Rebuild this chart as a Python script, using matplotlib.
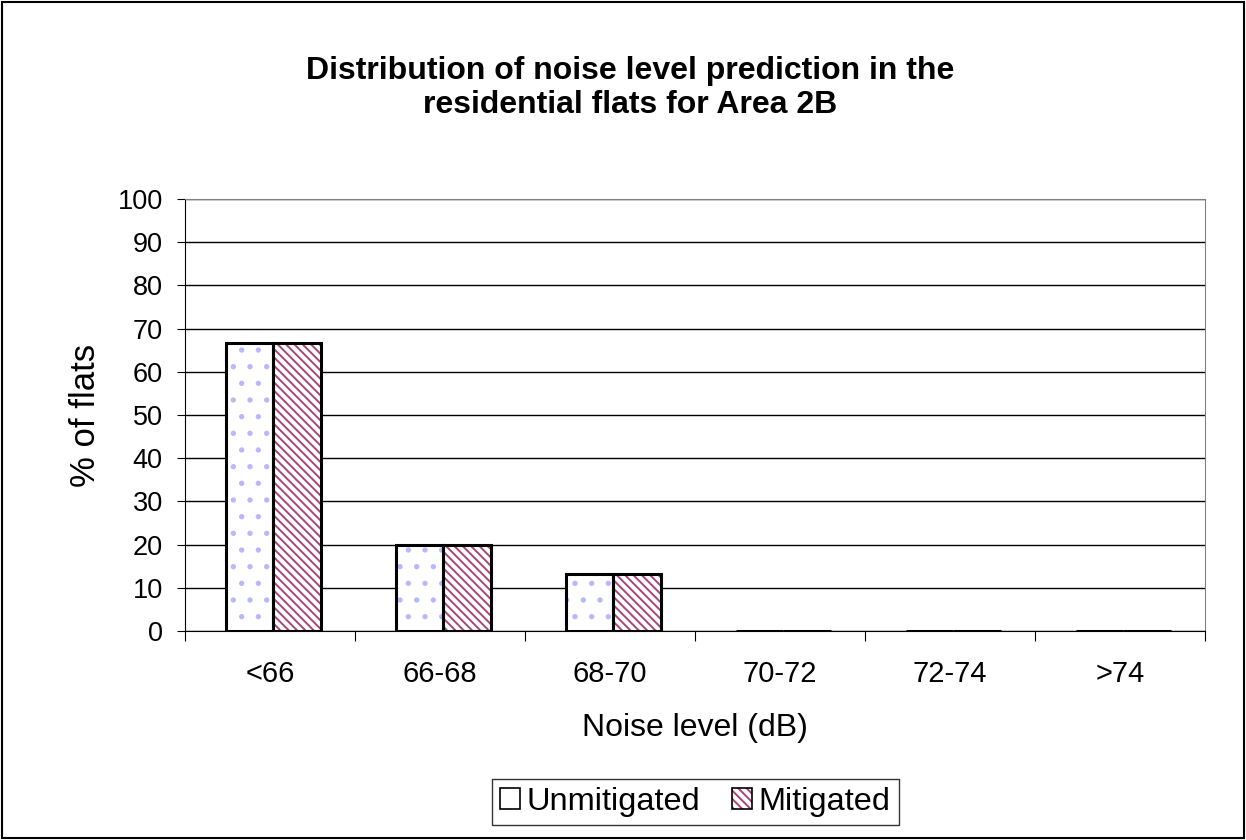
import matplotlib.pyplot as plt
from matplotlib.patches import Rectangle
from matplotlib.legend_handler import HandlerTuple
import numpy as np

plt.rcParams['font.family'] = ['Liberation Sans', 'DejaVu Sans']
plt.rcParams['hatch.linewidth'] = 1.4

categories = ['<66', '66-68', '68-70', '70-72', '72-74', '>74']
unmitigated = [66.7, 20.0, 13.3, 0, 0, 0]
mitigated = [66.7, 20.0, 13.3, 0, 0, 0]

DOT = '#b8b8ff'
STRIPE = '#a8467a'

fig = plt.figure(figsize=(12.46, 8.4), dpi=100)
ax = fig.add_axes([0.1485, 0.2488, 0.8186, 0.5143])

x = np.arange(len(categories))
w = 0.28

# hatched fills first, then black outlines on top
ax.bar(x - w / 2 + 0.02, unmitigated, w, color='white', hatch='.',
       edgecolor=DOT, linewidth=0, zorder=3)
ax.bar(x + w / 2 + 0.02, mitigated, w, color='white', hatch='\\\\\\\\',
       edgecolor=STRIPE, linewidth=0, zorder=3)
for xs, vals in [(x - w / 2 + 0.02, unmitigated), (x + w / 2 + 0.02, mitigated)]:
    ax.bar(xs, vals, w, fill=False, edgecolor='black', linewidth=2.2, zorder=4)

ax.set_xlim(-0.5, len(categories) - 0.5)
ax.set_ylim(0, 100)
ax.set_yticks(np.arange(0, 101, 10))
ax.yaxis.grid(True, color='black', linewidth=1)
ax.set_axisbelow(True)

ax.set_xticks(np.arange(-0.5, len(categories), 1))
ax.set_xticklabels([])
ax.set_xticks(x, minor=True)
ax.set_xticklabels(categories, minor=True)
ax.tick_params(axis='x', which='minor', length=0, pad=21, labelsize=21)
ax.tick_params(axis='x', which='major', length=7, direction='out')
ax.tick_params(axis='y', length=6, direction='out', labelsize=19.5, pad=10)

for s in ['top', 'right']:
    ax.spines[s].set_color('#808080')
ax.spines['left'].set_color('black')
ax.spines['bottom'].set_color('black')

ax.set_xlabel('Noise level (dB)', fontsize=23, labelpad=18)
ax.set_ylabel('% of flats', fontsize=25, labelpad=11)

fig.text(0.506, 0.895, 'Distribution of noise level prediction in the\nresidential flats for Area 2B',
         ha='center', va='center', fontsize=23, fontweight='bold', linespacing=1.2)

h1 = (Rectangle((0, 0), 1, 1, facecolor='white', edgecolor='none'),
      Rectangle((0, 0), 1, 1, fill=False, edgecolor='black', linewidth=1.2))
h2 = (Rectangle((0, 0), 1, 1, facecolor='white', hatch='\\\\\\\\', edgecolor=STRIPE, linewidth=0),
      Rectangle((0, 0), 1, 1, fill=False, edgecolor='black', linewidth=1.2))
leg = fig.legend([h1, h2], ['Unmitigated', 'Mitigated'], loc='center',
                 bbox_to_anchor=(0.558, 0.0455), ncol=2, fontsize=23.4, frameon=True,
                 fancybox=False, edgecolor='black', handlelength=0.6, handleheight=0.6,
                 handletextpad=0.2, columnspacing=1.0, borderpad=0.25,
                 handler_map={tuple: HandlerTuple(ndivide=1, pad=0)})
leg.get_frame().set_linewidth(1)

fig.patches.append(Rectangle((0.002, 0.002), 0.996, 0.996, transform=fig.transFigure,
                             fill=False, edgecolor='black', linewidth=1.5))

plt.savefig('out.png', dpi=100)
